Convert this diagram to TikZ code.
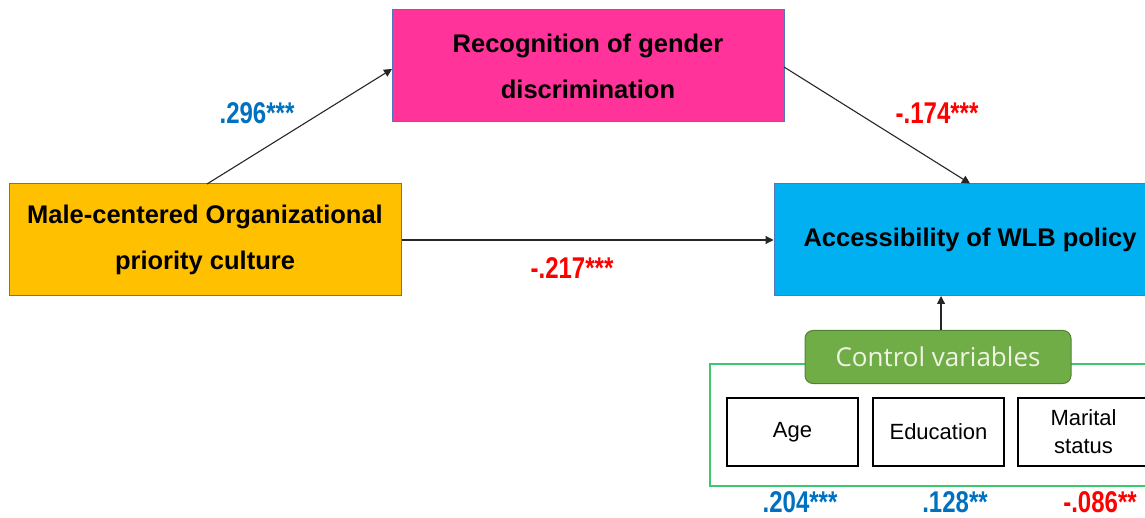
\documentclass[tikz,border=0pt]{standalone}
\usepackage{fontspec}
\setmainfont{Liberation Sans}
\newfontfamily\cvfont{Open Sans}
\usetikzlibrary{arrows.meta}
\definecolor{yel}{RGB}{255,192,0}
\definecolor{pnk}{RGB}{255,51,153}
\definecolor{cyn}{RGB}{0,176,240}
\definecolor{bordb}{RGB}{80,120,185}
\definecolor{cvgreen}{RGB}{112,173,71}
\definecolor{cvdark}{RGB}{84,130,53}
\definecolor{frameg}{RGB}{60,200,110}
\definecolor{cblue}{RGB}{0,112,192}
\definecolor{cred}{RGB}{255,0,0}
\definecolor{cvtext}{RGB}{240,244,228}
\tikzset{
  bigbox/.style={draw=bordb, line width=1pt, minimum width=392pt, minimum height=112pt, inner sep=0pt, align=center,
    font=\fontsize{25.5}{46}\selectfont\bfseries},
  smallbox/.style={draw=black, line width=1.2pt, minimum width=131pt, minimum height=68pt, inner sep=0pt, align=center,
    font=\fontsize{22}{28}\selectfont},
  coef/.style={font=\fontsize{30}{32}\selectfont\bfseries, xscale=0.8, inner sep=0pt},
  arr/.style={draw=black!85, line width=1.1pt, -{Triangle[length=8pt,width=8pt]}},
}
\begin{document}
\begin{tikzpicture}[x=1pt,y=-1pt]
\useasboundingbox (0,0) rectangle (1145,518);
\clip (0,0) rectangle (1145,518);
% green frame
\draw[frameg, line width=1.3pt] (710,364) rectangle (1166,486);
% main boxes
\node[bigbox, fill=yel] (mc) at (205,240) {Male-centered Organizational\\priority culture};
\node[bigbox, fill=pnk] (rg) at (588,66) {Recognition of gender\\discrimination};
\node[bigbox, fill=cyn] (ac) at (970,240) {Accessibility of WLB policy};
% control variables
\node[draw=cvdark, fill=cvgreen, line width=1pt, rounded corners=8pt, minimum width=266pt, minimum height=53pt, inner sep=0pt,
  text=cvtext, font=\cvfont\fontsize{26}{28}\selectfont] (cv) at (938,357) {Control variables};
\node[smallbox] (age) at (792.5,432) {Age};
\node[smallbox] (edu) at (938.5,432) {Education};
\node[smallbox] (mar) at (1083.5,432) {Marital\\status};
% arrows
\coordinate (a1s) at (207,184);
\coordinate (a1e) at (392,69);
\draw[arr] (a1s) -- (a1e);
\coordinate (a2s) at (784,67);
\draw[arr] (a2s) -- (ac.north);
\draw[arr] (mc.east) -- (ac.west);
\coordinate (cvt) at (941,330);
\coordinate (act) at (941,296);
\draw[arr] (cvt) -- (act);
% coefficients
\node[coef, text=cblue] (c1) at (257,113) {.296***};
\node[coef, text=cred] (c2) at (937,113) {-.174***};
\node[coef, text=cred] (c3) at (572,268) {-.217***};
\node[coef, text=cblue] (c4) at (800,502) {.204***};
\node[coef, text=cblue] (c5) at (955,502) {.128**};
\node[coef, text=cred] (c6) at (1100,502) {-.086**};
\end{tikzpicture}
\end{document}
